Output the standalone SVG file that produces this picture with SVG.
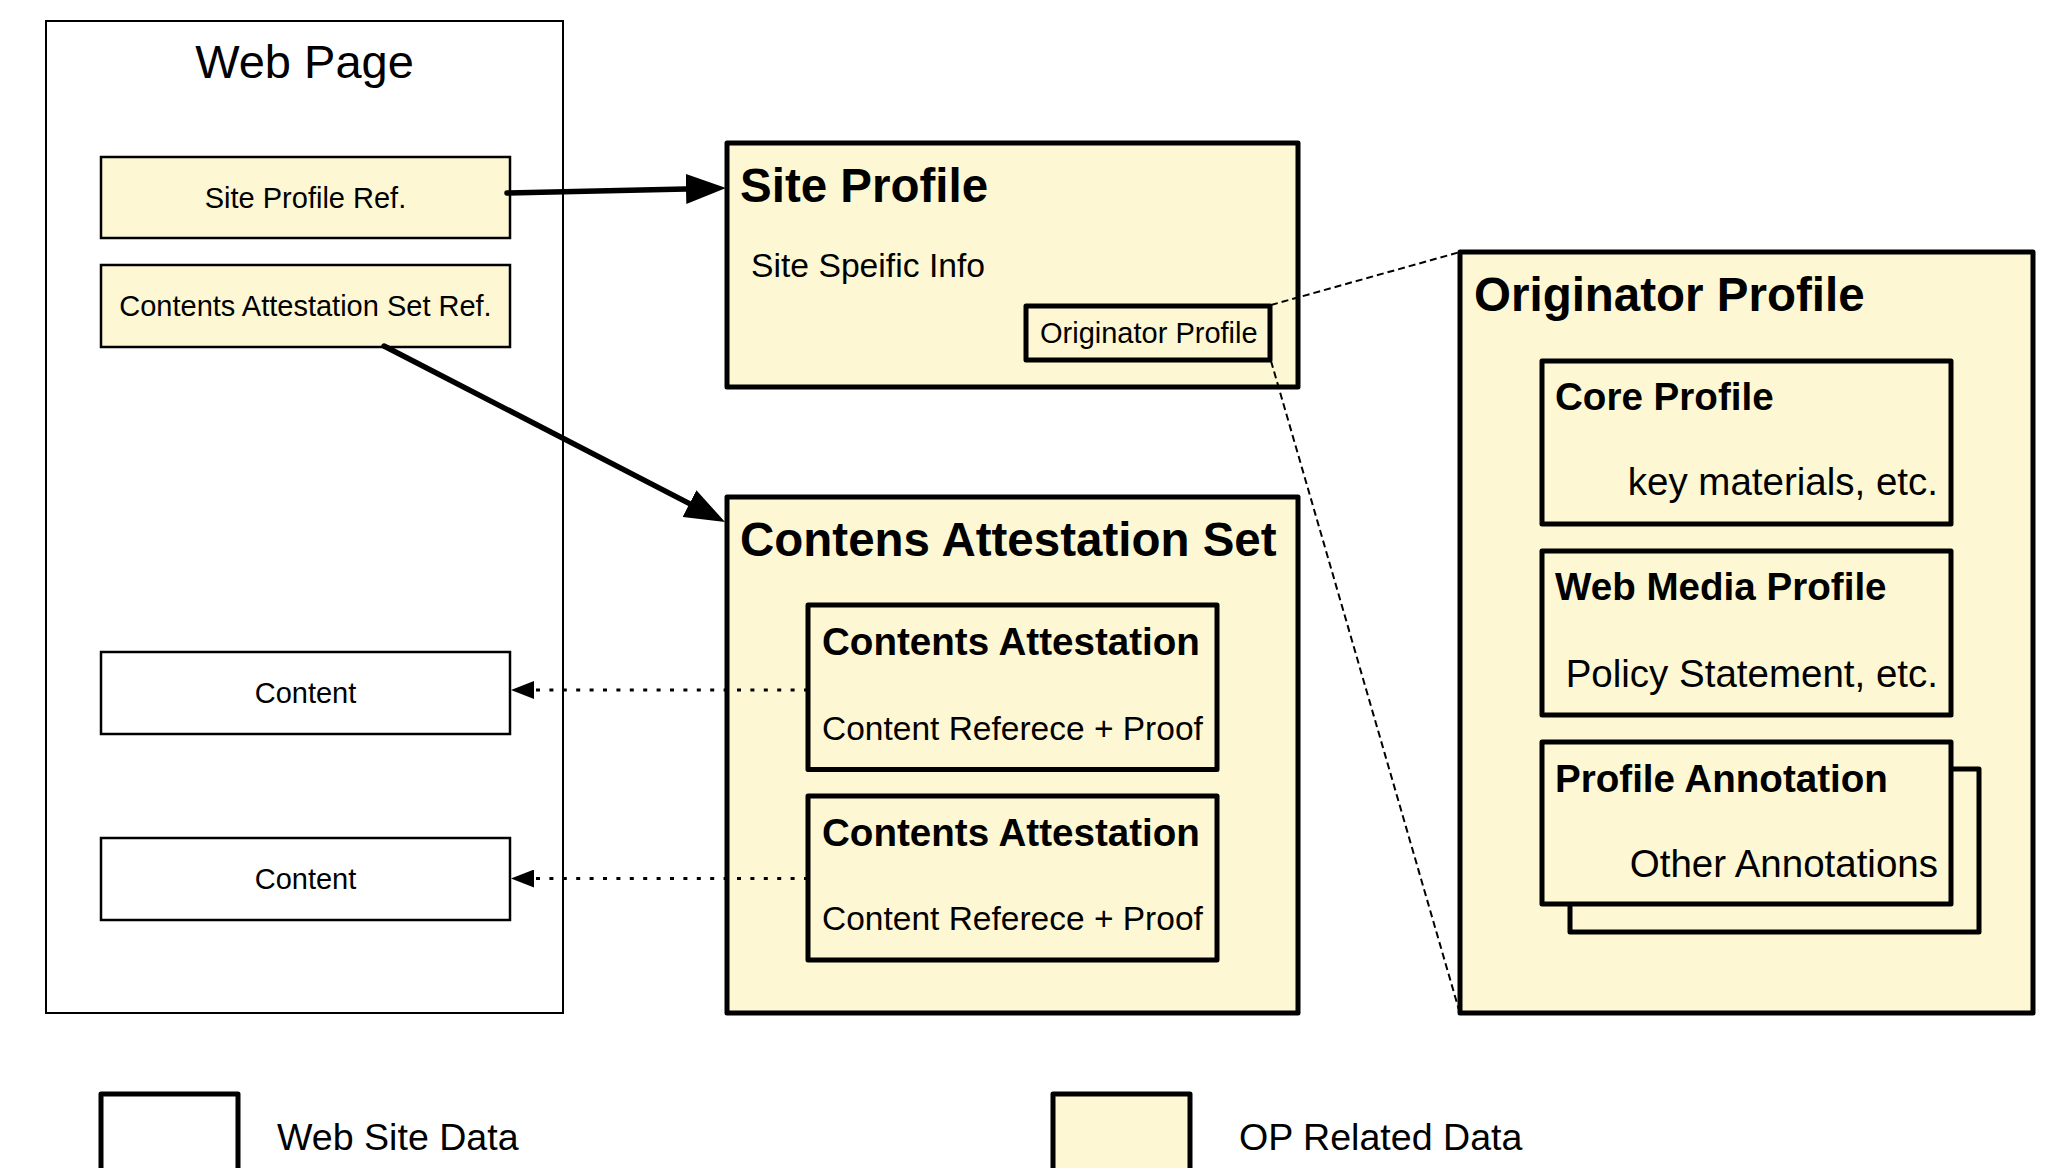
<svg xmlns="http://www.w3.org/2000/svg" width="2049" height="1168" viewBox="0 0 2049 1168">
  <style>
    text { font-family: "Liberation Sans", Arial, Helvetica, sans-serif; fill: #000; }
    .page { fill: #fff; stroke: #000; stroke-width: 2; }
    .web { fill: #fff; stroke: #000; stroke-width: 2.5; }
    .ref { fill: #fdf8d3; stroke: #000; stroke-width: 2.5; }
    .op { fill: #fdf8d3; stroke: #000; stroke-width: 5; stroke-linejoin: round; }
    .legend-web { fill: #fff; stroke: #000; stroke-width: 5; stroke-linejoin: round; }
    .h1 { font-size: 47.5px; font-weight: bold; }
    .h2 { font-size: 38.6px; font-weight: bold; }
    .body { font-size: 38.5px; }
    .legend { font-size: 37.6px; }
    .mid { font-size: 33.5px; }
    .small { font-size: 29px; }
    .thick { fill: none; stroke: #000; stroke-width: 5.5; stroke-linecap: round; }
    .dotted { fill: none; stroke: #000; stroke-width: 3; stroke-dasharray: 4 9.4; }
    .dashed { fill: none; stroke: #000; stroke-width: 2; stroke-dasharray: 7 4; }
  </style>
  <defs>
    <marker id="headBig" markerUnits="userSpaceOnUse" markerWidth="40" markerHeight="30" refX="0" refY="15" orient="auto">
      <path d="M0,0 L40,15 L0,30 z" fill="#000"/>
    </marker>
    <marker id="headSmall" markerUnits="userSpaceOnUse" markerWidth="23" markerHeight="18" refX="0" refY="9" orient="auto">
      <path d="M0,0 L23,9 L0,18 z" fill="#000"/>
    </marker>
  </defs>

  <!-- Web page container -->
  <g id="web-page">
    <rect class="page" x="46" y="21" width="517" height="992"/>
    <text x="304.5" y="78" font-size="47" text-anchor="middle">Web Page</text>
  </g>
  <g id="site-profile-ref">
    <rect class="ref" x="101" y="157" width="409" height="81"/>
    <text class="small" x="305.5" y="207.5" text-anchor="middle">Site Profile Ref.</text>
  </g>
  <g id="cas-ref">
    <rect class="ref" x="101" y="265" width="409" height="82"/>
    <text class="small" x="305.5" y="316" text-anchor="middle">Contents Attestation Set Ref.</text>
  </g>
  <g id="content-1">
    <rect class="web" x="101" y="652" width="409" height="82"/>
    <text class="small" x="305.5" y="703" text-anchor="middle">Content</text>
  </g>
  <g id="content-2">
    <rect class="web" x="101" y="838" width="409" height="82"/>
    <text class="small" x="305.5" y="888.5" text-anchor="middle">Content</text>
  </g>

  <!-- Site profile -->
  <g id="site-profile">
    <rect class="op" x="727" y="143" width="571" height="244"/>
    <text class="h1" x="740" y="202">Site Profile</text>
    <text x="751" y="277" font-size="33.7">Site Speific Info</text>
  </g>
  <g id="site-profile-op">
    <rect class="op" x="1026" y="306" width="244" height="54" stroke-width="4.5"/>
    <text class="small" x="1040" y="343">Originator Profile</text>
  </g>

  <!-- Contents attestation set -->
  <g id="cas">
    <rect class="op" x="727" y="497" width="571" height="516"/>
    <text class="h1" x="740" y="556" font-size="49">Contens Attestation Set</text>
  </g>
  <g id="ca-1">
    <rect class="op" x="808" y="605" width="409" height="164.5"/>
    <text class="h2" x="822" y="655">Contents Attestation</text>
    <text class="mid" x="822" y="740">Content Referece + Proof</text>
  </g>
  <g id="ca-2">
    <rect class="op" x="808" y="796" width="409" height="164"/>
    <text class="h2" x="822" y="846">Contents Attestation</text>
    <text class="mid" x="822" y="930">Content Referece + Proof</text>
  </g>

  <!-- Originator profile -->
  <g id="originator-profile">
    <rect class="op" x="1460" y="252" width="573" height="761"/>
    <text class="h1" x="1474" y="311">Originator Profile</text>
  </g>
  <g id="core-profile">
    <rect class="op" x="1542" y="361" width="409" height="163"/>
    <text class="h2" x="1555" y="410">Core Profile</text>
    <text class="body" x="1938" y="495" text-anchor="end">key materials, etc.</text>
  </g>
  <g id="web-media-profile">
    <rect class="op" x="1542" y="551" width="409" height="164"/>
    <text class="h2" x="1555" y="600">Web Media Profile</text>
    <text class="body" x="1938" y="687" text-anchor="end">Policy Statement, etc.</text>
  </g>
  <g id="profile-annotation">
    <rect class="op" x="1570" y="769" width="409" height="163"/>
    <rect class="op" x="1542" y="742" width="409" height="162"/>
    <text class="h2" x="1555" y="792">Profile Annotation</text>
    <text class="body" x="1938" y="877" text-anchor="end">Other Annotations</text>
  </g>

  <!-- Connectors -->
  <g id="connectors">
    <line class="thick" x1="507" y1="193" x2="686" y2="188.9" marker-end="url(#headBig)"/>
    <line class="thick" x1="384" y1="346" x2="689.5" y2="503.6" marker-end="url(#headBig)"/>
    <line class="dotted" x1="808" y1="690" x2="534" y2="690" marker-end="url(#headSmall)"/>
    <line class="dotted" x1="808" y1="878.5" x2="534" y2="878.5" marker-end="url(#headSmall)"/>
    <line class="dashed" x1="1271" y1="305" x2="1460" y2="252"/>
    <line class="dashed" x1="1271" y1="361" x2="1459" y2="1010"/>
  </g>

  <!-- Legend -->
  <g id="legend-web-site-data">
    <rect class="legend-web" x="101" y="1094" width="137" height="100"/>
    <text class="legend" x="277" y="1150">Web Site Data</text>
  </g>
  <g id="legend-op-related-data">
    <rect class="op" x="1053" y="1094" width="137" height="100"/>
    <text class="legend" x="1239" y="1150">OP Related Data</text>
  </g>
</svg>
